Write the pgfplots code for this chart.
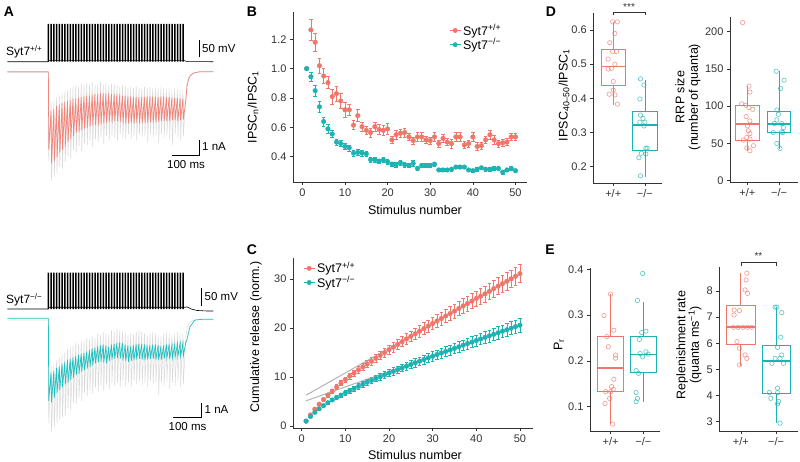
\documentclass[border=0pt]{standalone}
\usepackage{pgfplots}
\pgfplotsset{compat=1.18}
\usepgfplotslibrary{statistics}
\usepackage{fontspec}
\setmainfont{Liberation Sans}

\definecolor{cred}{HTML}{EE766B}
\definecolor{cteal}{HTML}{1DB3B3}
\definecolor{tred}{HTML}{F28479}
\definecolor{tteal}{HTML}{22C0C0}
\definecolor{tgray}{HTML}{DADADA}
\definecolor{axc}{HTML}{333333}

\newcommand{\lab}{\fontsize{12.5}{13.5}\selectfont}
\newcommand{\tk}{\fontsize{11}{12}\selectfont}

\pgfplotsset{
  ggaxis/.style={scale only axis, anchor=south west, clip=false,
    axis lines=left, axis line style={-, line width=0.6pt, axc},
    tick align=outside, major tick length=3pt,
    tick style={line width=0.6pt, axc},
    tick label style={font=\tk, axc},
    /pgf/number format/assume math mode=true},
  trace/.style={scale only axis, anchor=south west, hide axis, clip=false,
    xmin=-15, xmax=60, width=206pt},
  catx/.style={xtick={1,2}, xticklabels={+/+, −/−}, boxplot/draw direction=y},
  boxr/.style={draw=cred, line width=0.8pt, solid,
    boxplot/every median/.style={line width=1.8pt}},
  boxt/.style={draw=cteal, line width=0.8pt, solid,
    boxplot/every median/.style={line width=1.8pt}},
  ptr/.style={only marks, mark=o, mark size=2.2pt, draw=cred, draw opacity=0.75, mark options={line width=0.6pt}},
  ptt/.style={only marks, mark=o, mark size=2.2pt, draw=cteal, draw opacity=0.75, mark options={line width=0.6pt}},
  erbr/.style={only marks, mark=*, mark size=2.3pt, color=cred,
    error bars/y dir=both, error bars/y explicit,
    error bars/error bar style={line width=0.6pt, cred},
    error bars/error mark options={rotate=90, mark size=1.8pt, line width=0.6pt, cred}},
  erbt/.style={only marks, mark=*, mark size=2.3pt, color=cteal,
    error bars/y dir=both, error bars/y explicit,
    error bars/error bar style={line width=0.6pt, cteal},
    error bars/error mark options={rotate=90, mark size=1.8pt, line width=0.6pt, cteal}},
}

\begin{document}
\begin{tikzpicture}[x=1pt,y=1pt]
\path[use as bounding box] (0,0) rectangle (800,462);

% ---------- A, Syt7 +/+ ----------
\begin{axis}[trace, at={(7.3pt,396.8pt)}, height=43.3pt, ymin=-10, ymax=115]
\addplot[black, line width=0.6pt] coordinates {(-15,0)(-0.1,0)(0,3)(49.5,3)(50.5,0.5)(60,0)};
\addplot[ybar, bar width=1.5pt, bar shift=0pt, fill=black, draw=none] coordinates {
(0,109)(1,109)(2,109)(3,109)(4,109)(5,109)(6,109)(7,109)(8,109)(9,109)
(10,109)(11,109)(12,109)(13,109)(14,109)(15,109)(16,109)(17,109)(18,109)(19,109)
(20,109)(21,109)(22,109)(23,109)(24,109)(25,109)(26,109)(27,109)(28,109)(29,109)
(30,109)(31,109)(32,109)(33,109)(34,109)(35,109)(36,109)(37,109)(38,109)(39,109)
(40,109)(41,109)(42,109)(43,109)(44,109)(45,109)(46,109)(47,109)(48,109)(49,109)};
\end{axis}

\begin{axis}[trace, at={(7.3pt,273.3pt)}, height=124.5pt, ymin=-7.8, ymax=0.5]
\addplot[tgray, line width=0.5pt] coordinates {
(-15,-0.05)(-0.05,-0.05)(0.1,-6.0)(0.95,-2.0)(1.1,-7.3)(1.95,-1.9)(2.1,-7.0)(2.95,-1.7)(3.1,-6.8)(3.95,-1.6)
(4.1,-6.4)(4.95,-1.4)(5.1,-6.5)(5.95,-1.3)(6.1,-6.0)(6.95,-1.2)(7.1,-5.6)(7.95,-1.1)(8.1,-5.8)(8.95,-1.0)
(9.1,-5.2)(9.95,-0.9)(10.1,-5.4)(10.95,-1.0)(11.1,-5.0)(11.95,-0.8)(12.1,-5.3)(12.95,-0.9)(13.1,-4.8)(13.95,-0.75)
(14.1,-4.9)(14.95,-0.85)(15.1,-4.6)(15.95,-0.7)(16.1,-5.0)(16.95,-0.9)(17.1,-4.5)(17.95,-0.8)(18.1,-4.7)(18.95,-0.7)
(19.1,-4.4)(19.95,-0.85)(20.1,-4.8)(20.95,-0.75)(21.1,-4.3)(21.95,-0.9)(22.1,-4.6)(22.95,-0.8)(23.1,-4.3)(23.95,-0.85)
(24.1,-4.4)(24.95,-0.9)(25.1,-4.6)(25.95,-1.0)(26.1,-4.2)(26.95,-0.9)(27.1,-4.4)(27.95,-1.0)(28.1,-4.5)(28.95,-1.1)
(29.1,-4.2)(29.95,-1.0)(30.1,-4.5)(30.95,-1.1)(31.1,-4.3)(31.95,-1.0)(32.1,-4.6)(32.95,-1.1)(33.1,-4.2)(33.95,-1.15)
(34.1,-4.4)(34.95,-1.0)(35.1,-4.3)(35.95,-1.1)(36.1,-4.7)(36.95,-1.0)(37.1,-4.2)(37.95,-1.1)(38.1,-4.4)(38.95,-1.05)
(39.1,-4.3)(39.95,-1.1)(40.1,-4.8)(40.95,-1.0)(41.1,-4.2)(41.95,-1.1)(42.1,-4.4)(42.95,-1.15)(43.1,-4.3)(43.95,-1.1)
(44.1,-4.5)(44.95,-1.2)(45.1,-4.9)(45.95,-1.1)(46.1,-4.2)(46.95,-1.2)(47.1,-4.4)(47.95,-1.15)(48.1,-4.6)(48.95,-1.2)
(49.1,-4.3)(50.0,-1.6)(50.4,-0.8)(51.0,-0.4)(51.7,-0.2)(53,-0.08)(55,-0.02)(60,0)};
\addplot[tred, line width=0.7pt] coordinates {
(-15,0)(-0.05,0)(0.1,-5.2)(0.95,-2.6)(1.1,-6.1)(1.95,-2.5)(2.1,-6.0)(2.95,-2.3)(3.1,-5.7)(3.95,-2.2)
(4.1,-5.4)(4.95,-2.1)(5.1,-5.2)(5.95,-2.0)(6.1,-5.0)(6.95,-1.95)(7.1,-4.7)(7.95,-1.9)(8.1,-4.5)(8.95,-1.8)
(9.1,-4.3)(9.95,-1.8)(10.1,-4.1)(10.95,-1.75)(11.1,-4.0)(11.95,-1.7)(12.1,-3.9)(12.95,-1.65)(13.1,-3.8)(13.95,-1.6)
(14.1,-3.75)(14.95,-1.6)(15.1,-3.65)(15.95,-1.55)(16.1,-3.6)(16.95,-1.5)(17.1,-3.55)(17.95,-1.5)(18.1,-3.6)(18.95,-1.45)
(19.1,-3.5)(19.95,-1.45)(20.1,-3.45)(20.95,-1.45)(21.1,-3.4)(21.95,-1.45)(22.1,-3.35)(22.95,-1.5)(23.1,-3.35)(23.95,-1.5)
(24.1,-3.3)(24.95,-1.5)(25.1,-3.3)(25.95,-1.55)(26.1,-3.35)(26.95,-1.6)(27.1,-3.4)(27.95,-1.6)(28.1,-3.45)(28.95,-1.65)
(29.1,-3.45)(29.95,-1.65)(30.1,-3.45)(30.95,-1.7)(31.1,-3.45)(31.95,-1.7)(32.1,-3.4)(32.95,-1.7)(33.1,-3.45)(33.95,-1.7)
(34.1,-3.45)(34.95,-1.7)(35.1,-3.4)(35.95,-1.65)(36.1,-3.4)(36.95,-1.65)(37.1,-3.35)(37.95,-1.65)(38.1,-3.4)(38.95,-1.7)
(39.1,-3.35)(39.95,-1.7)(40.1,-3.35)(40.95,-1.65)(41.1,-3.3)(41.95,-1.65)(42.1,-3.3)(42.95,-1.7)(43.1,-3.3)(43.95,-1.7)
(44.1,-3.3)(44.95,-1.75)(45.1,-3.25)(45.95,-1.75)(46.1,-3.25)(46.95,-1.75)(47.1,-3.3)(47.95,-1.8)(48.1,-3.25)(48.95,-1.8)
(49.1,-3.2)(50.0,-1.9)(50.4,-1.0)(51.0,-0.5)(51.7,-0.25)(53,-0.08)(55,0)(60,0)};
\end{axis}

% ---------- A, Syt7 -/- ----------
\begin{axis}[trace, at={(7.3pt,149.5pt)}, height=43.3pt, ymin=-10, ymax=115]
\addplot[black, line width=0.6pt] coordinates {(-15,0)(-0.1,0)(0,5)(49.5,5)(50.5,6)(52,0)(54,-4)(57,-5.5)(60,-5.8)};
\addplot[ybar, bar width=1.5pt, bar shift=0pt, fill=black, draw=none] coordinates {
(0,105)(1,105)(2,105)(3,105)(4,105)(5,105)(6,105)(7,105)(8,105)(9,105)
(10,105)(11,105)(12,105)(13,105)(14,105)(15,105)(16,105)(17,105)(18,105)(19,105)
(20,105)(21,105)(22,105)(23,105)(24,105)(25,105)(26,105)(27,105)(28,105)(29,105)
(30,105)(31,105)(32,105)(33,105)(34,105)(35,105)(36,105)(37,105)(38,105)(39,105)
(40,105)(41,105)(42,105)(43,105)(44,105)(45,105)(46,105)(47,105)(48,105)(49,105)};
\end{axis}

\begin{axis}[trace, at={(7.3pt,26.7pt)}, height=124.5pt, ymin=-7.8, ymax=0.5]
\addplot[tgray, line width=0.5pt] coordinates {
(-15,-0.12)(-0.05,-0.12)(0.1,-7.0)(0.95,-3.2)(1.1,-7.6)(1.95,-3.0)(2.1,-7.3)(2.95,-2.8)(3.1,-7.0)(3.95,-2.6)
(4.1,-6.8)(4.95,-2.4)(5.1,-6.6)(5.95,-2.2)(6.1,-6.5)(6.95,-2.0)(7.1,-6.0)(7.95,-1.9)(8.1,-6.1)(8.95,-1.8)
(9.1,-5.6)(9.95,-1.6)(10.1,-5.7)(10.95,-1.7)(11.1,-5.3)(11.95,-1.5)(12.1,-5.5)(12.95,-1.5)(13.1,-5.0)(13.95,-1.3)
(14.1,-5.2)(14.95,-1.4)(15.1,-4.8)(15.95,-1.2)(16.1,-5.0)(16.95,-1.3)(17.1,-4.6)(17.95,-1.0)(18.1,-4.9)(18.95,-1.1)
(19.1,-4.5)(19.95,-0.9)(20.1,-4.8)(20.95,-1.0)(21.1,-4.4)(21.95,-1.1)(22.1,-4.7)(22.95,-0.8)(23.1,-4.3)(23.95,-0.9)
(24.1,-4.5)(24.95,-0.7)(25.1,-4.3)(25.95,-0.8)(26.1,-4.6)(26.95,-0.9)(27.1,-4.2)(27.95,-1.0)(28.1,-4.5)(28.95,-1.1)
(29.1,-4.3)(29.95,-1.0)(30.1,-4.6)(30.95,-1.1)(31.1,-4.2)(31.95,-0.9)(32.1,-4.4)(32.95,-0.8)(33.1,-4.2)(33.95,-0.9)
(34.1,-4.5)(34.95,-1.0)(35.1,-4.3)(35.95,-1.1)(36.1,-4.6)(36.95,-1.0)(37.1,-4.2)(37.95,-0.9)(38.1,-4.4)(38.95,-1.0)
(39.1,-4.3)(39.95,-1.1)(40.1,-5.1)(40.95,-1.2)(41.1,-4.3)(41.95,-1.0)(42.1,-4.5)(42.95,-0.9)(43.1,-4.2)(43.95,-1.0)
(44.1,-4.7)(44.95,-1.1)(45.1,-4.3)(45.95,-1.0)(46.1,-4.5)(46.95,-0.9)(47.1,-4.2)(47.95,-1.0)(48.1,-4.6)(48.95,-1.0)
(49.1,-4.4)(50.0,-1.3)(50.5,-0.6)(51.3,-0.3)(52.5,-0.15)(55,-0.1)(60,-0.1)};
\addplot[tteal, line width=0.7pt] coordinates {
(-15,0)(-0.05,0)(0.1,-5.5)(0.95,-3.6)(1.1,-5.6)(1.95,-3.5)(2.1,-5.3)(2.95,-3.3)(3.1,-5.0)(3.95,-3.2)
(4.1,-4.8)(4.95,-3.0)(5.1,-4.6)(5.95,-2.9)(6.1,-4.4)(6.95,-2.75)(7.1,-4.3)(7.95,-2.7)(8.1,-4.1)(8.95,-2.6)
(9.1,-3.95)(9.95,-2.5)(10.1,-3.8)(10.95,-2.45)(11.1,-3.7)(11.95,-2.35)(12.1,-3.55)(12.95,-2.3)(13.1,-3.45)(13.95,-2.2)
(14.1,-3.35)(14.95,-2.1)(15.1,-3.25)(15.95,-2.0)(16.1,-3.15)(16.95,-1.95)(17.1,-3.0)(17.95,-1.85)(18.1,-2.95)(18.95,-1.8)
(19.1,-2.9)(19.95,-1.75)(20.1,-2.95)(20.95,-1.8)(21.1,-3.0)(21.95,-1.9)(22.1,-2.85)(22.95,-1.75)(23.1,-2.75)(23.95,-1.7)
(24.1,-2.7)(24.95,-1.65)(25.1,-2.65)(25.95,-1.6)(26.1,-2.7)(26.95,-1.65)(27.1,-2.8)(27.95,-1.75)(28.1,-2.85)(28.95,-1.8)
(29.1,-2.9)(29.95,-1.85)(30.1,-2.85)(30.95,-1.8)(31.1,-2.8)(31.95,-1.75)(32.1,-2.75)(32.95,-1.7)(33.1,-2.7)(33.95,-1.7)
(34.1,-2.75)(34.95,-1.75)(35.1,-2.8)(35.95,-1.8)(36.1,-2.75)(36.95,-1.8)(37.1,-2.7)(37.95,-1.75)(38.1,-2.7)(38.95,-1.75)
(39.1,-2.75)(39.95,-1.8)(40.1,-2.8)(40.95,-1.85)(41.1,-2.75)(41.95,-1.8)(42.1,-2.7)(42.95,-1.75)(43.1,-2.65)(43.95,-1.75)
(44.1,-2.7)(44.95,-1.8)(45.1,-2.65)(45.95,-1.75)(46.1,-2.6)(46.95,-1.7)(47.1,-2.55)(47.95,-1.65)(48.1,-2.55)(48.95,-1.65)
(49.1,-2.5)(50.0,-1.6)(50.3,-1.5)(51.5,-0.57)(53.3,-0.11)(56,-0.07)(60,-0.07)};
\end{axis}

% scale bars and labels of A
\draw[black, line width=0.8pt] (199,422) -- (199,405);
\node[anchor=west, font=\fontsize{11.5}{12}\selectfont, inner sep=1pt] at (201,413.5) {50 mV};
\draw[black, line width=0.8pt] (172,307) -- (199,307) -- (199,322);
\node[anchor=west, font=\fontsize{11.5}{12}\selectfont, inner sep=1pt] at (201,315) {1 nA};
\node[font=\fontsize{11.5}{12}\selectfont] at (186,297) {100 ms};
\node[anchor=west, font=\fontsize{12}{13}\selectfont, inner sep=0pt] at (6,410) {Syt7\textsuperscript{+/+}};
\draw[black, line width=0.8pt] (201.7,174) -- (201.7,156);
\node[anchor=west, font=\fontsize{11.5}{12}\selectfont, inner sep=1pt] at (203.5,165) {50 mV};
\draw[black, line width=0.8pt] (173.3,44.7) -- (201.7,44.7) -- (201.7,59.3);
\node[anchor=west, font=\fontsize{11.5}{12}\selectfont, inner sep=1pt] at (203.5,52.5) {1 nA};
\node[font=\fontsize{11.5}{12}\selectfont] at (187.5,35) {100 ms};
\node[anchor=west, font=\fontsize{12}{13}\selectfont, inner sep=0pt] at (6,162) {Syt7\textsuperscript{−/−}};

% ---------- B ----------
\begin{axis}[ggaxis, at={(293pt,280pt)}, width=234pt, height=170pt,
  xmin=-2.2, xmax=52.7, ymin=0.228, ymax=1.386,
  xtick={0,10,20,30,40,50}, ytick={0.4,0.6,0.8,1.0,1.2},
  yticklabel style={/pgf/number format/fixed, /pgf/number format/fixed zerofill, /pgf/number format/precision=1},
  legend style={draw=none, fill=none, at={(0.667,0.94)}, anchor=north west, font=\lab,
    row sep=-2pt, inner sep=0pt, cells={anchor=west}}]
\addlegendimage{legend image code/.code={\draw[cred, line width=0.8pt] (0pt,0pt) -- (11pt,0pt); \fill[cred] (5.5pt,0pt) circle (2.2pt);}}
\addlegendentry{Syt7\textsuperscript{+/+}}
\addlegendimage{legend image code/.code={\draw[cteal, line width=0.8pt] (0pt,0pt) -- (11pt,0pt); \fill[cteal] (5.5pt,0pt) circle (2.2pt);}}
\addlegendentry{Syt7\textsuperscript{−/−}}
\addplot[forget plot, erbr] coordinates {
(1,1.0)+-(0,0) (2,1.264)+-(0,0.07) (3,1.18)+-(0,0.06) (4,1.02)+-(0,0.05) (5,0.95)+-(0,0.05)
(6,0.905)+-(0,0.04) (7,0.81)+-(0,0.05) (8,0.83)+-(0,0.05) (9,0.78)+-(0,0.05) (10,0.72)+-(0,0.05)
(11,0.72)+-(0,0.04) (12,0.615)+-(0,0.03) (13,0.68)+-(0,0.04) (14,0.605)+-(0,0.03) (15,0.58)+-(0,0.03)
(16,0.565)+-(0,0.03) (17,0.605)+-(0,0.03) (18,0.585)+-(0,0.035) (19,0.58)+-(0,0.035) (20,0.59)+-(0,0.035)
(21,0.515)+-(0,0.025) (22,0.55)+-(0,0.03) (23,0.56)+-(0,0.03) (24,0.565)+-(0,0.03) (25,0.535)+-(0,0.025)
(26,0.51)+-(0,0.025) (27,0.535)+-(0,0.03) (28,0.535)+-(0,0.03) (29,0.515)+-(0,0.025) (30,0.51)+-(0,0.025)
(31,0.535)+-(0,0.03) (32,0.49)+-(0,0.025) (33,0.525)+-(0,0.03) (34,0.50)+-(0,0.025) (35,0.49)+-(0,0.03)
(36,0.535)+-(0,0.03) (37,0.535)+-(0,0.03) (38,0.48)+-(0,0.025) (39,0.49)+-(0,0.025) (40,0.535)+-(0,0.03)
(41,0.47)+-(0,0.025) (42,0.475)+-(0,0.025) (43,0.515)+-(0,0.025) (44,0.55)+-(0,0.03) (45,0.515)+-(0,0.03)
(46,0.49)+-(0,0.025) (47,0.495)+-(0,0.025) (48,0.50)+-(0,0.025) (49,0.535)+-(0,0.025) (50,0.535)+-(0,0.025)};
\addplot[forget plot, erbt] coordinates {
(1,1.0)+-(0,0) (2,0.945)+-(0,0.03) (3,0.85)+-(0,0.035) (4,0.74)+-(0,0.035) (5,0.64)+-(0,0.03)
(6,0.59)+-(0,0.03) (7,0.555)+-(0,0.025) (8,0.50)+-(0,0.02) (9,0.49)+-(0,0.02) (10,0.47)+-(0,0.02)
(11,0.46)+-(0,0.02) (12,0.425)+-(0,0.02) (13,0.43)+-(0,0.02) (14,0.425)+-(0,0.02) (15,0.42)+-(0,0.02)
(16,0.38)+-(0,0.015) (17,0.38)+-(0,0.015) (18,0.37)+-(0,0.015) (19,0.378)+-(0,0.015) (20,0.365)+-(0,0.015)
(21,0.35)+-(0,0.015) (22,0.345)+-(0,0.015) (23,0.36)+-(0,0.015) (24,0.345)+-(0,0.015) (25,0.34)+-(0,0.015)
(26,0.355)+-(0,0.02) (27,0.32)+-(0,0.015) (28,0.34)+-(0,0.015) (29,0.34)+-(0,0.015) (30,0.34)+-(0,0.015)
(31,0.35)+-(0,0.015) (32,0.31)+-(0,0.012) (33,0.31)+-(0,0.012) (34,0.31)+-(0,0.012) (35,0.315)+-(0,0.012)
(36,0.33)+-(0,0.012) (37,0.33)+-(0,0.012) (38,0.33)+-(0,0.012) (39,0.31)+-(0,0.012) (40,0.305)+-(0,0.012)
(41,0.315)+-(0,0.012) (42,0.325)+-(0,0.012) (43,0.315)+-(0,0.012) (44,0.315)+-(0,0.012) (45,0.32)+-(0,0.012)
(46,0.32)+-(0,0.012) (47,0.295)+-(0,0.012) (48,0.31)+-(0,0.012) (49,0.32)+-(0,0.012) (50,0.305)+-(0,0.012)};
\end{axis}

% ---------- C ----------
\begin{axis}[ggaxis, at={(293pt,34pt)}, width=240pt, height=170pt,
  xmin=-2.0, xmax=53, ymin=-0.4, ymax=34.3,
  xtick={0,10,20,30,40,50}, ytick={0,10,20,30},
  legend style={draw=none, fill=none, at={(0.042,0.988)}, anchor=north west, font=\lab,
    row sep=-2pt, inner sep=0pt, cells={anchor=west}}]
\addlegendimage{legend image code/.code={\draw[cred, line width=0.8pt] (0pt,0pt) -- (11pt,0pt); \fill[cred] (5.5pt,0pt) circle (2.2pt);}}
\addlegendentry{Syt7\textsuperscript{+/+}}
\addlegendimage{legend image code/.code={\draw[cteal, line width=0.8pt] (0pt,0pt) -- (11pt,0pt); \fill[cteal] (5.5pt,0pt) circle (2.2pt);}}
\addlegendentry{Syt7\textsuperscript{−/−}}
\addplot[forget plot, erbr] coordinates {
(1,1.0)+-(0,0.06) (2,2.264)+-(0,0.14) (3,3.444)+-(0,0.21) (4,4.464)+-(0,0.27) (5,5.414)+-(0,0.32)
(6,6.319)+-(0,0.38) (7,7.129)+-(0,0.43) (8,7.959)+-(0,0.48) (9,8.739)+-(0,0.52) (10,9.459)+-(0,0.57)
(11,10.179)+-(0,0.61) (12,10.794)+-(0,0.65) (13,11.474)+-(0,0.69) (14,12.079)+-(0,0.72) (15,12.659)+-(0,0.76)
(16,13.224)+-(0,0.79) (17,13.829)+-(0,0.83) (18,14.414)+-(0,0.86) (19,14.994)+-(0,0.90) (20,15.584)+-(0,0.94)
(21,16.099)+-(0,0.97) (22,16.649)+-(0,1.00) (23,17.209)+-(0,1.03) (24,17.774)+-(0,1.07) (25,18.309)+-(0,1.10)
(26,18.819)+-(0,1.13) (27,19.354)+-(0,1.16) (28,19.889)+-(0,1.19) (29,20.404)+-(0,1.22) (30,20.914)+-(0,1.25)
(31,21.449)+-(0,1.29) (32,21.939)+-(0,1.32) (33,22.464)+-(0,1.35) (34,22.964)+-(0,1.38) (35,23.454)+-(0,1.41)
(36,23.989)+-(0,1.44) (37,24.524)+-(0,1.47) (38,25.004)+-(0,1.50) (39,25.494)+-(0,1.53) (40,26.029)+-(0,1.56)
(41,26.499)+-(0,1.59) (42,26.974)+-(0,1.62) (43,27.489)+-(0,1.65) (44,28.039)+-(0,1.68) (45,28.554)+-(0,1.71)
(46,29.044)+-(0,1.74) (47,29.539)+-(0,1.77) (48,30.039)+-(0,1.80) (49,30.574)+-(0,1.83) (50,31.109)+-(0,1.87)};
\addplot[forget plot, erbt] coordinates {
(1,1.0)+-(0,0.07) (2,1.945)+-(0,0.13) (3,2.795)+-(0,0.18) (4,3.535)+-(0,0.23) (5,4.175)+-(0,0.28)
(6,4.765)+-(0,0.31) (7,5.32)+-(0,0.35) (8,5.82)+-(0,0.38) (9,6.31)+-(0,0.42) (10,6.78)+-(0,0.45)
(11,7.24)+-(0,0.48) (12,7.665)+-(0,0.51) (13,8.095)+-(0,0.53) (14,8.52)+-(0,0.56) (15,8.94)+-(0,0.59)
(16,9.32)+-(0,0.62) (17,9.70)+-(0,0.64) (18,10.07)+-(0,0.66) (19,10.448)+-(0,0.69) (20,10.813)+-(0,0.71)
(21,11.163)+-(0,0.74) (22,11.508)+-(0,0.76) (23,11.868)+-(0,0.78) (24,12.213)+-(0,0.81) (25,12.553)+-(0,0.83)
(26,12.908)+-(0,0.85) (27,13.228)+-(0,0.87) (28,13.568)+-(0,0.90) (29,13.908)+-(0,0.92) (30,14.248)+-(0,0.94)
(31,14.598)+-(0,0.96) (32,14.908)+-(0,0.98) (33,15.218)+-(0,1.00) (34,15.528)+-(0,1.02) (35,15.843)+-(0,1.05)
(36,16.173)+-(0,1.07) (37,16.503)+-(0,1.09) (38,16.833)+-(0,1.11) (39,17.143)+-(0,1.13) (40,17.448)+-(0,1.15)
(41,17.763)+-(0,1.17) (42,18.088)+-(0,1.19) (43,18.403)+-(0,1.21) (44,18.718)+-(0,1.24) (45,19.038)+-(0,1.26)
(46,19.358)+-(0,1.28) (47,19.653)+-(0,1.30) (48,19.963)+-(0,1.32) (49,20.283)+-(0,1.34) (50,20.588)+-(0,1.36)};
\addplot[forget plot, gray!75, line width=1pt, opacity=0.8] coordinates {(1,6.3)(50,31.0)};
\addplot[forget plot, gray!75, line width=1pt, opacity=0.8] coordinates {(1,5.15)(50,20.6)};
\end{axis}

% ---------- D, left ----------
\begin{axis}[ggaxis, catx, at={(593.3pt,279pt)}, width=68.7pt, height=170pt,
  xmin=0.37, xmax=2.54, ymin=0.152, ymax=0.65,
  ytick={0.2,0.3,0.4,0.5,0.6},
  yticklabel style={/pgf/number format/fixed, /pgf/number format/fixed zerofill, /pgf/number format/precision=1}]
\addplot[boxr, boxplot prepared={draw position=1, lower whisker=0.38, lower quartile=0.437, median=0.493, upper quartile=0.543, upper whisker=0.625, box extend=0.77, whisker extend=0}] coordinates {};
\addplot[boxt, boxplot prepared={draw position=2, lower whisker=0.17, lower quartile=0.248, median=0.322, upper quartile=0.362, upper whisker=0.455, box extend=0.77, whisker extend=0}] coordinates {};
\addplot[ptr] coordinates {(0.98,0.624)(1.13,0.624)(1.05,0.590)(0.89,0.563)(0.98,0.537)(1.10,0.537)(0.84,0.515)(1.05,0.500)(0.95,0.488)(0.84,0.486)(1.00,0.449)(1.00,0.424)(1.05,0.410)(0.87,0.412)(1.13,0.383)};
\addplot[ptt] coordinates {(1.86,0.457)(1.97,0.439)(1.84,0.398)(1.86,0.351)(1.94,0.341)(1.84,0.330)(2.0,0.330)(1.97,0.319)(2.03,0.254)(2.07,0.254)(1.89,0.239)(2.03,0.237)(1.81,0.226)(1.86,0.173)};
\draw[axc, line width=0.6pt] (axis cs:1,0.643) -- (axis cs:1,0.651) -- (axis cs:2,0.651) -- (axis cs:2,0.643);
\node[font=\fontsize{10}{10}\selectfont, axc] at (axis cs:1.5,0.666) {***};
\end{axis}

% ---------- D, right ----------
\begin{axis}[ggaxis, catx, at={(730pt,280pt)}, width=68pt, height=165pt,
  xmin=0.45, xmax=2.6, ymin=-2, ymax=219.6,
  ytick={0,50,100,150,200}]
\addplot[boxr, boxplot prepared={draw position=1, lower whisker=40, lower quartile=54.2, median=75.6, upper quartile=101.3, upper whisker=126.7, box extend=0.75, whisker extend=0}] coordinates {};
\addplot[boxt, boxplot prepared={draw position=2, lower whisker=42.2, lower quartile=64.4, median=76.4, upper quartile=92.4, upper whisker=146.7, box extend=0.75, whisker extend=0}] coordinates {};
\addplot[ptr] coordinates {(0.85,212)(1.05,126.7)(1.08,118.7)(0.82,103)(0.95,101)(1.05,97.8)(1.17,95.6)(0.96,85.8)(1.08,80)(1.0,73.3)(1.03,66.7)(1.08,63)(0.98,57.8)(1.08,55.6)(0.87,54.2)(1.19,46.7)(0.98,43.6)(1.08,40)};
\addplot[ptt] coordinates {(1.91,146.7)(2.16,134.7)(2.05,123.6)(1.93,94.7)(1.98,88.9)(1.93,81.3)(1.85,76.4)(2.08,76.4)(2.14,71.1)(2.08,65.3)(1.82,64.4)(2.12,64.4)(1.93,49.8)(2.03,43.1)};
\end{axis}

% ---------- E, left ----------
\begin{axis}[ggaxis, catx, at={(590pt,31pt)}, width=70pt, height=163pt,
  xmin=0.37, xmax=2.51, ymin=0.047, ymax=0.403,
  ytick={0.1,0.2,0.3,0.4},
  yticklabel style={/pgf/number format/fixed, /pgf/number format/fixed zerofill, /pgf/number format/precision=1}]
\addplot[boxr, boxplot prepared={draw position=1, lower whisker=0.062, lower quartile=0.133, median=0.184, upper quartile=0.253, upper whisker=0.346, box extend=0.79, whisker extend=0}] coordinates {};
\addplot[boxt, boxplot prepared={draw position=2, lower whisker=0.111, lower quartile=0.176, median=0.214, upper quartile=0.253, upper whisker=0.329, box extend=0.79, whisker extend=0}] coordinates {};
\addplot[ptr] coordinates {(1.0,0.346)(0.80,0.299)(1.10,0.267)(0.88,0.253)(0.93,0.231)(1.15,0.213)(1.15,0.206)(1.10,0.160)(1.03,0.144)(1.08,0.138)(0.85,0.133)(1.0,0.133)(0.97,0.118)(0.83,0.107)(1.06,0.062)};
\addplot[ptt] coordinates {(1.98,0.391)(1.82,0.332)(1.95,0.262)(2.08,0.265)(1.88,0.247)(2.08,0.220)(1.90,0.216)(2.15,0.215)(1.98,0.209)(1.78,0.179)(1.85,0.173)(1.78,0.131)(1.82,0.118)(1.78,0.111)};
\end{axis}

% ---------- E, right ----------
\begin{axis}[ggaxis, catx, at={(719.3pt,31pt)}, width=78.7pt, height=164.3pt,
  xmin=0.39, xmax=2.62, ymin=2.64, ymax=8.93,
  ytick={3,4,5,6,7,8}]
\addplot[boxr, boxplot prepared={draw position=1, lower whisker=5.13, lower quartile=5.97, median=6.61, upper quartile=7.43, upper whisker=8.68, box extend=0.8, whisker extend=0}] coordinates {};
\addplot[boxt, boxplot prepared={draw position=2, lower whisker=2.94, lower quartile=4.08, median=5.33, upper quartile=5.93, upper whisker=7.40, box extend=0.8, whisker extend=0}] coordinates {};
\addplot[ptr] coordinates {(1.17,8.68)(1.15,8.42)(1.12,8.04)(1.19,7.91)(0.81,7.27)(0.96,7.25)(0.81,7.08)(0.79,6.61)(0.92,6.61)(1.06,6.61)(1.19,6.61)(1.31,6.61)(0.89,6.06)(0.96,5.81)(1.12,5.55)(1.17,5.42)(0.96,5.17)};
\addplot[ptt] coordinates {(1.97,7.38)(2.02,7.38)(2.16,7.17)(2.13,6.23)(2.04,5.84)(2.16,5.55)(1.97,5.42)(2.11,5.42)(2.21,5.23)(1.88,5.23)(2.04,4.28)(1.81,4.11)(2.04,4.11)(1.85,3.89)(2.07,3.77)(2.04,3.68)(2.11,2.94)};
\draw[axc, line width=0.6pt] (axis cs:1,8.97) -- (axis cs:1,9.10) -- (axis cs:2,9.10) -- (axis cs:2,8.97);
\node[font=\fontsize{10}{10}\selectfont, axc] at (axis cs:1.5,9.33) {**};
\end{axis}

% ---------- axis titles and panel letters ----------
\node[font=\lab, rotate=90] at (253,355) {IPSC\textsubscript{n}/IPSC\textsubscript{1}};
\node[font=\lab] at (415,252) {Stimulus number};
\node[font=\lab, rotate=90] at (256,125) {Cumulative release (norm.)};
\node[font=\lab] at (415,7) {Stimulus number};
\node[font=\lab, rotate=90] at (564,367) {IPSC\textsubscript{40–50}/IPSC\textsubscript{1}};
\node[font=\lab, rotate=90, align=center] at (688,365) {RRP size\\(number of quanta)};
\node[font=\lab, rotate=90] at (559,117) {P\textsubscript{r}};
\node[font=\lab, rotate=90, align=center] at (689,117) {Replenishment rate\\(quanta ms\textsuperscript{−1})};
\node[font=\fontsize{14}{14}\selectfont\bfseries] at (9,450) {A};
\node[font=\fontsize{14}{14}\selectfont\bfseries] at (252,450) {B};
\node[font=\fontsize{14}{14}\selectfont\bfseries] at (252,212) {C};
\node[font=\fontsize{14}{14}\selectfont\bfseries] at (551,450) {D};
\node[font=\fontsize{14}{14}\selectfont\bfseries] at (550,212) {E};
\end{tikzpicture}
\end{document}
